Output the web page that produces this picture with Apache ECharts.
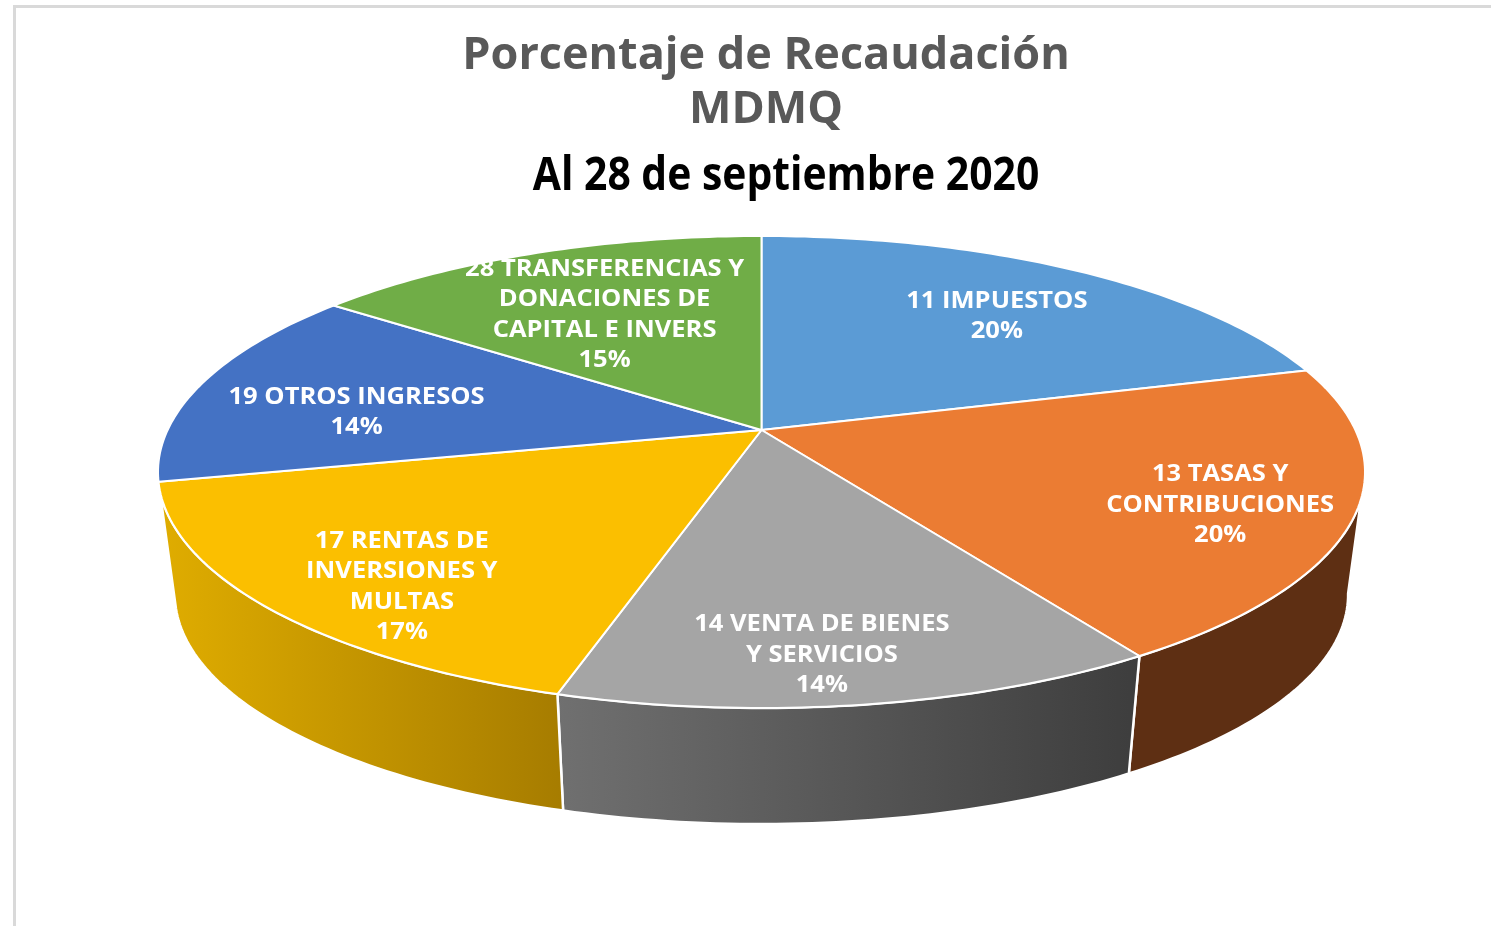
<!DOCTYPE html>
<html>
<head>
<meta charset="utf-8">
<title>Porcentaje de Recaudación</title>
<style>
  html, body { margin: 0; padding: 0; background: #fff; }
  #chart { width: 1491px; height: 926px; }
</style>
<script src="https://cdn.jsdelivr.net/npm/echarts@6/dist/echarts.min.js"></script>
</head>
<body>
<div id="chart"></div>
<script>
// values: slice sizes from the slice edges, percents as printed
const labels = [
  ['11 IMPUESTOS'],
  ['13 TASAS Y', 'CONTRIBUCIONES'],
  ['14 VENTA DE BIENES', 'Y SERVICIOS'],
  ['17 RENTAS DE', 'INVERSIONES Y', 'MULTAS'],
  ['19 OTROS INGRESOS'],
  ['28 TRANSFERENCIAS Y', 'DONACIONES DE', 'CAPITAL E INVERS']
];
const shares = [20.6, 20.3, 13.7, 16.9, 13.8, 14.7];
const printedPercents = [20, 20, 14, 17, 14, 15];

const topColors = ['#5b9bd5', '#eb7c33', '#a5a5a5', '#fbbf00', '#4472c4', '#70ad47'];
const wallColors = [null, ['#5e2f13', '#5e2f13'], ['#707070', '#3d3d3d'], ['#e0ad00', '#a67c00'], null, null];

// label centres on the hidden axes (-1..1 across the top ellipse)
const labelSpotsX = [0.39, 0.76, 0.1, -0.596, -0.671, -0.26];
const labelSpotsY = [-0.66, 0.14, 0.776, 0.487, -0.252, -0.665];

const TILT = 0.178;        // how far the centre of the pie sits above the ellipse centre
const WALL_SHRINK = 0.972; // the lower rim is a little smaller
const WALL_DROP = 0.52;
const WALL_FROM = 100, WALL_TO = 260; // part of the rim that faces the viewer

const total = shares.reduce((a, b) => a + b, 0);
const starts = [];
shares.reduce((sum, v, i) => { starts[i] = sum / total * 360; return sum + v; }, 0);

// point on the flat disc (r, degrees clockwise from 12 o'clock) -> axis values
function project(r, deg) {
  const a = deg * Math.PI / 180;
  const u = r * Math.sin(a), v = -r * Math.cos(a);
  const d = 1 - TILT * v;
  return [u * Math.sqrt(1 - TILT * TILT) / d, (v - TILT) / d];
}
function lower(p) {
  return [p[0] * WALL_SHRINK, p[1] * WALL_SHRINK + WALL_DROP];
}
function arc(from, to) {
  const pts = [];
  const n = Math.max(2, Math.ceil(to - from));
  for (let i = 0; i <= n; i++) pts.push(project(1, from + (to - from) * i / n));
  return pts;
}

const rows = shares.map((v, i) => [i, v]);

function renderWall(params, api) {
  const i = api.value(0);
  if (!wallColors[i]) return;
  const from = Math.max(starts[i], WALL_FROM);
  const to = Math.min(starts[i] + shares[i] / total * 360, WALL_TO);
  const rim = arc(from, to);
  const pts = rim.concat(rim.slice().reverse().map(lower)).map(p => api.coord(p));
  return {
    type: 'polygon',
    shape: { points: pts },
    style: {
      fill: {
        type: 'linear', x: 0, y: 0, x2: 1, y2: 0,
        colorStops: [
          { offset: 0, color: wallColors[i][0] },
          { offset: 1, color: wallColors[i][1] }
        ]
      },
      stroke: '#fff',
      lineWidth: 2.5
    }
  };
}

function renderTop(params, api) {
  const i = api.value(0);
  const to = starts[i] + shares[i] / total * 360;
  const pts = [project(0, 0)].concat(arc(starts[i], to)).map(p => api.coord(p));
  return {
    type: 'polygon',
    shape: { points: pts },
    style: { fill: topColors[i], stroke: '#fff', lineWidth: 2, lineJoin: 'round' }
  };
}

function renderLabel(params, api) {
  const i = api.value(0);
  const pos = api.coord([labelSpotsX[i], labelSpotsY[i]]);
  const text = labels[i].concat(printedPercents[i] + '%').join('\n');
  return {
    type: 'text',
    x: pos[0],
    y: pos[1],
    scaleX: 1.11,
    style: {
      text: text,
      fill: '#fff',
      font: '700 23px "Open Sans"',
      lineHeight: 30.5,
      align: 'center',
      verticalAlign: 'middle'
    }
  };
}

const myChart = echarts.init(document.getElementById('chart'), null, { renderer: 'canvas' });
const option = {
  animation: false,
  backgroundColor: '#fff',
  title: {
    text: 'Porcentaje de Recaudación\nMDMQ',
    left: 761,
    top: 24,
    textAlign: 'center',
    textStyle: {
      fontFamily: 'Open Sans',
      fontWeight: 700,
      fontSize: 45,
      lineHeight: 54,
      color: '#595959'
    }
  },
  grid: { left: 158, width: 1207, top: 236, height: 472 },
  xAxis: { type: 'value', min: -1, max: 1, show: false },
  yAxis: { type: 'value', min: -1, max: 1, inverse: true, show: false },
  graphic: [
    {
      type: 'rect',
      shape: { x: 14.5, y: 6.5, width: 1700, height: 1200 },
      style: { fill: 'none', stroke: '#d9d9d9', lineWidth: 3 },
      silent: true
    },
    {
      type: 'text',
      x: 786,
      y: 177,
      scaleX: 0.888,
      style: {
        text: 'Al 28 de septiembre 2020',
        fill: '#000',
        font: '700 46px "Open Sans"',
        align: 'center',
        verticalAlign: 'middle'
      }
    }
  ],
  series: [
    { type: 'custom', name: 'wall', renderItem: renderWall, data: rows, z: 2, silent: true },
    { type: 'custom', name: 'top', renderItem: renderTop, data: rows, z: 3, silent: true },
    { type: 'custom', name: 'label', renderItem: renderLabel, data: rows, z: 4, silent: true }
  ]
};
myChart.setOption(option);
</script>
</body>
</html>
